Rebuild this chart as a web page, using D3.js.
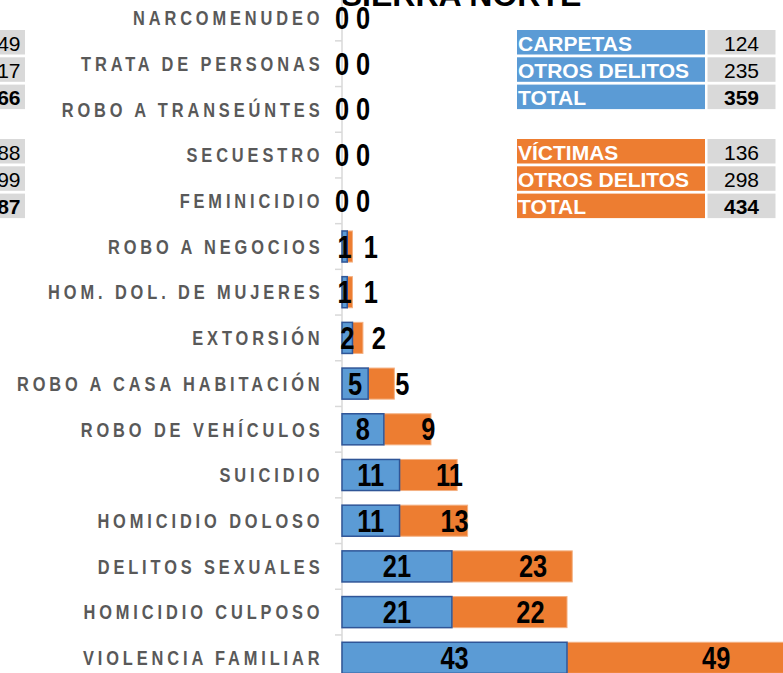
<!DOCTYPE html>
<html lang="es">
<head>
    <meta charset="UTF-8">
    <title>Sierra Norte</title>
    <script src="https://d3js.org/d3.v7.min.js"></script>
    <style>
        body { margin: 0; background: #fff; overflow: hidden; }
        svg { display: block; font-family: "Liberation Sans", Arial, sans-serif; }
    </style>
</head>
<body>
    <div id="chart"></div>
    <script>
        // categories top to bottom
        const categories = ["NARCOMENUDEO", "TRATA DE PERSONAS", "ROBO A TRANSEÚNTES", "SECUESTRO",
            "FEMINICIDIO", "ROBO A NEGOCIOS", "HOM. DOL. DE MUJERES", "EXTORSIÓN",
            "ROBO A CASA HABITACIÓN", "ROBO DE VEHÍCULOS", "SUICIDIO", "HOMICIDIO DOLOSO",
            "DELITOS SEXUALES", "HOMICIDIO CULPOSO", "VIOLENCIA FAMILIAR"];
        const carpetas = [0, 0, 0, 0, 0, 1, 1, 2, 5, 8, 11, 11, 21, 21, 43];
        const victimas = [0, 0, 0, 0, 0, 1, 1, 2, 5, 9, 11, 13, 23, 22, 49];

        const carpetasLabels = ["CARPETAS", "OTROS DELITOS", "TOTAL"];
        const carpetasValues = [124, 235, 359];
        const victimasLabels = ["VÍCTIMAS", "OTROS DELITOS", "TOTAL"];
        const victimasValues = [136, 298, 434];
        // table of the neighbouring panel, cut off at the left edge
        const leftCarpetas = [49, 17, 66];
        const leftVictimas = [88, 99, 187];

        const width = 783, height = 673;
        const blue = "#5b9bd5", orange = "#ed7d31", grey = "#d9d9d9";

        const svg = d3.select("#chart").append("svg")
            .attr("width", width)
            .attr("height", height);

        const y = d3.scaleBand()
            .domain(categories)
            .range([-4.85, 680.65])
            .paddingInner(0.32)
            .paddingOuter(0.16);

        const x = d3.scaleLinear()
            .domain([0, 100])
            .range([342, 342 + 523.3]);

        // title (mostly outside the view)
        svg.append("text")
            .attr("x", 461)
            .attr("y", 6)
            .attr("text-anchor", "middle")
            .style("font-size", "32px")
            .style("font-weight", "bold")
            .text("SIERRA NORTE");

        // axis line with ticks between categories
        svg.append("line")
            .attr("x1", x(0)).attr("x2", x(0))
            .attr("y1", y.range()[0]).attr("y2", y.range()[1])
            .style("stroke", grey)
            .style("stroke-width", 1.5);

        svg.selectAll(".tick")
            .data(categories.slice(1))
            .enter()
            .append("line")
            .attr("x1", x(0) - 7).attr("x2", x(0))
            .attr("y1", d => y(d) - y.step() * y.paddingInner() / 2)
            .attr("y2", d => y(d) - y.step() * y.paddingInner() / 2)
            .style("stroke", grey)
            .style("stroke-width", 1.5);

        // category labels
        svg.selectAll(".cat")
            .data(categories)
            .enter()
            .append("text")
            .attr("class", "cat")
            .attr("transform", d => `translate(323.5, ${y(d) + y.bandwidth() / 2 + 7.2}) scale(0.82, 1)`)
            .attr("text-anchor", "end")
            .style("font-size", "20px")
            .style("font-weight", "bold")
            .style("letter-spacing", "4.75px")
            .style("fill", "#595959")
            .text(d => d);

        // stacked bars
        svg.selectAll(".bar-v")
            .data(categories)
            .enter()
            .append("rect")
            .attr("x", (d, i) => x(carpetas[i]))
            .attr("y", d => y(d))
            .attr("width", (d, i) => x(carpetas[i] + victimas[i]) - x(carpetas[i]))
            .attr("height", y.bandwidth())
            .style("fill", orange)
            .style("stroke", "#f4b183")
            .style("stroke-width", 1);

        svg.selectAll(".bar-c")
            .data(categories)
            .enter()
            .append("rect")
            .attr("x", x(0))
            .attr("y", d => y(d))
            .attr("width", (d, i) => x(carpetas[i]) - x(0))
            .attr("height", y.bandwidth())
            .style("fill", blue)
            .style("stroke", "#2f5597")
            .style("stroke-width", 1.5)
            .style("display", (d, i) => carpetas[i] === 0 ? "none" : null);

        // value labels
        function valueLabels(cls, xpos, values) {
            svg.selectAll("." + cls)
                .data(categories)
                .enter()
                .append("text")
                .attr("class", cls)
                .attr("transform", (d, i) => `translate(${xpos(i)}, ${y(d) + y.bandwidth() / 2 + 11}) scale(0.82, 1)`)
                .attr("text-anchor", "middle")
                .style("font-size", "31px")
                .style("font-weight", "bold")
                .style("fill", "#000")
                .text((d, i) => values[i]);
        }
        valueLabels("lab-c", i => x(carpetas[i] / 2), carpetas);
        valueLabels("lab-v", i => x(carpetas[i] + victimas[i] / 2) + 21, victimas);

        // summary tables
        const rowH = 24.5, rowStep = 27.3;

        function table(top, labels, values, colour) {
            const g = svg.append("g").attr("transform", `translate(0, ${top})`);
            labels.forEach((lab, i) => {
                g.append("rect")
                    .attr("x", 517).attr("y", i * rowStep)
                    .attr("width", 188).attr("height", rowH)
                    .style("fill", colour);
                g.append("rect")
                    .attr("x", 707.5).attr("y", i * rowStep)
                    .attr("width", 68).attr("height", rowH)
                    .style("fill", grey);
                g.append("text")
                    .attr("x", 518).attr("y", i * rowStep + 20.5)
                    .style("font-size", "21px")
                    .style("font-weight", "bold")
                    .style("fill", "#fff")
                    .text(lab);
                g.append("text")
                    .attr("x", 741.5).attr("y", i * rowStep + 20.5)
                    .attr("text-anchor", "middle")
                    .style("font-size", "21px")
                    .style("font-weight", i === labels.length - 1 ? "bold" : "normal")
                    .text(values[i]);
            });
        }
        table(30, carpetasLabels, carpetasValues, blue);
        table(139, victimasLabels, victimasValues, orange);

        function leftTable(top, values) {
            const g = svg.append("g").attr("transform", `translate(0, ${top})`);
            values.forEach((v, i) => {
                g.append("rect")
                    .attr("x", -50).attr("y", i * rowStep)
                    .attr("width", 75).attr("height", rowH)
                    .style("fill", grey);
                g.append("text")
                    .attr("x", 20.5).attr("y", i * rowStep + 20.5)
                    .attr("text-anchor", "end")
                    .style("font-size", "21px")
                    .style("font-weight", i === values.length - 1 ? "bold" : "normal")
                    .text(v);
            });
        }
        leftTable(30, leftCarpetas);
        leftTable(139, leftVictimas);
    </script>
</body>
</html>
